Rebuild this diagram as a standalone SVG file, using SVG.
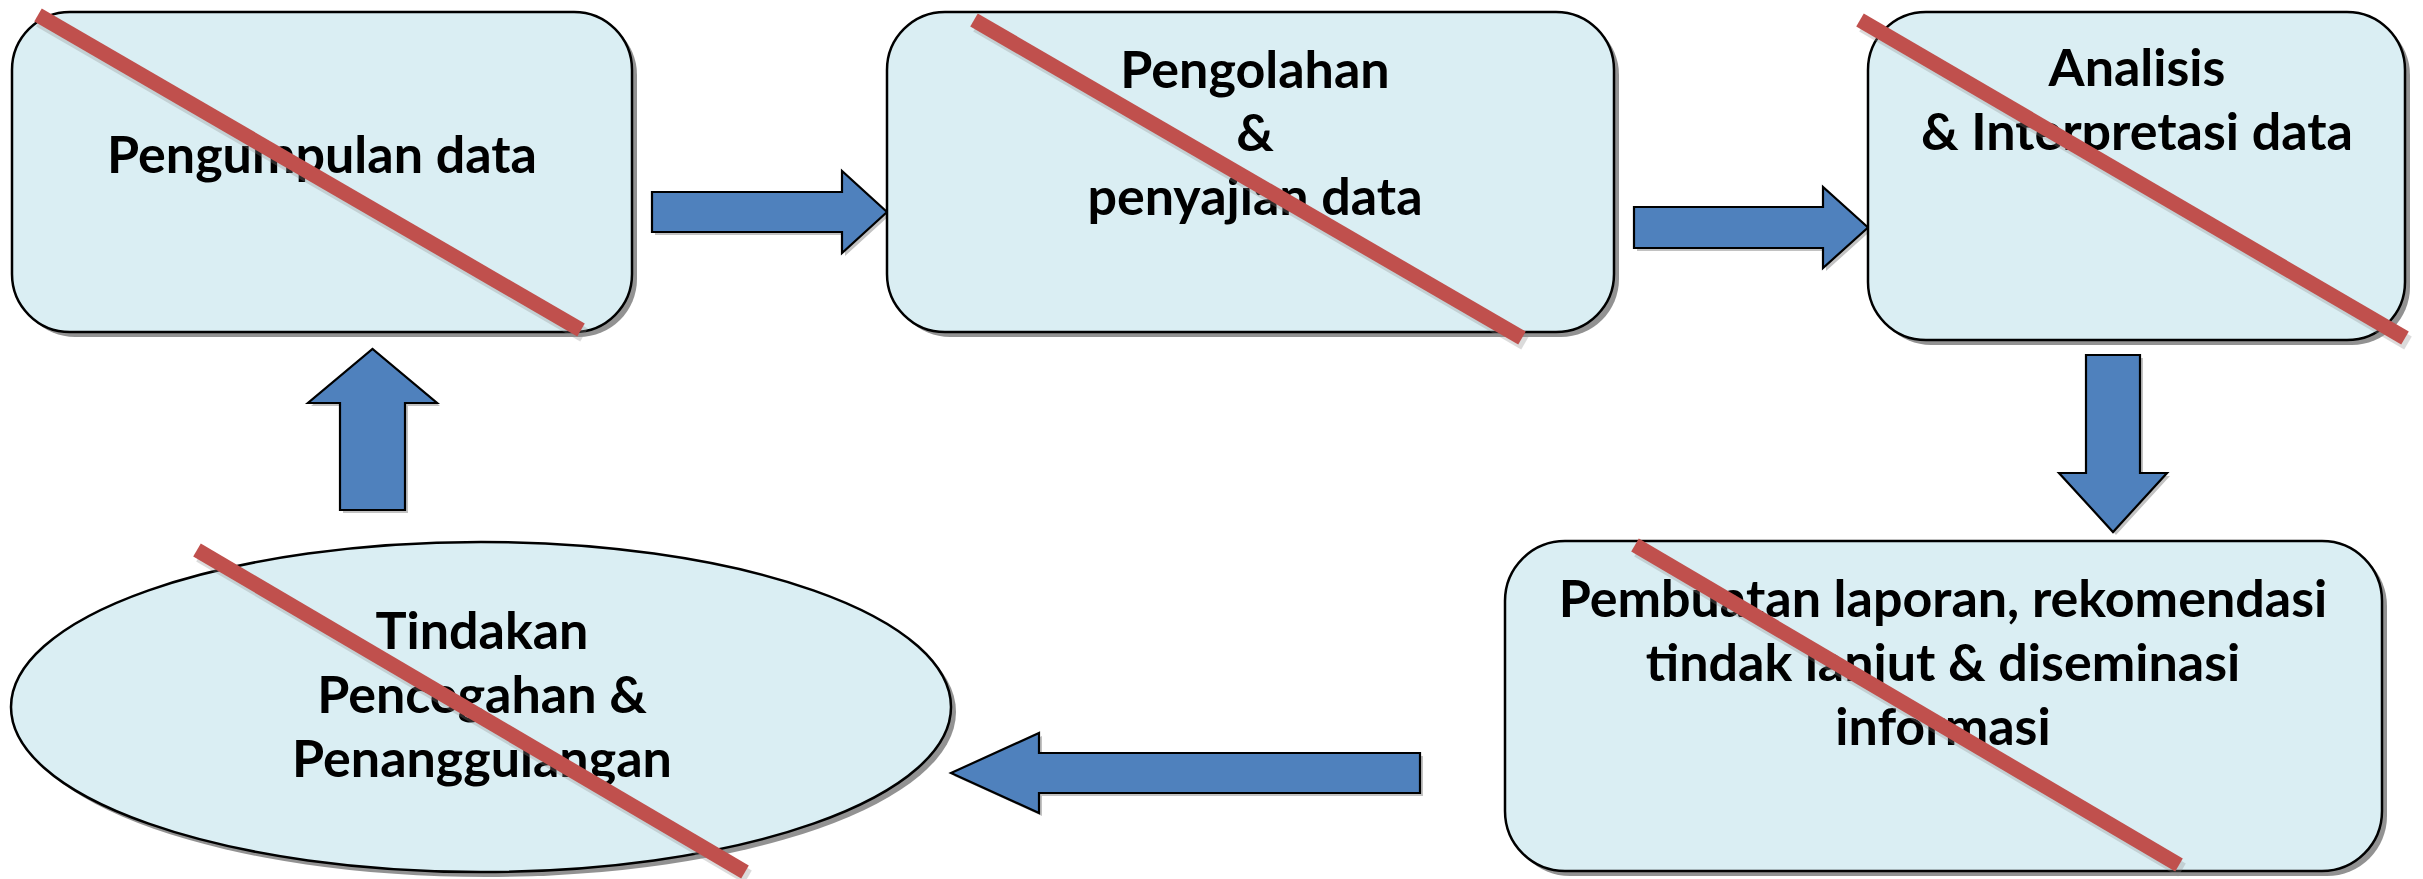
<svg xmlns="http://www.w3.org/2000/svg" width="2423" height="879" viewBox="0 0 2423 879">
<style>
.box{fill:#DAEEF3;stroke:#000;stroke-width:2.5}
.shd{fill:#7f7f7f;opacity:0.85}
.arr{fill:#4F81BD;stroke:#000;stroke-width:2.2;stroke-linejoin:miter}
.arrs{fill:#999;opacity:0.6}
.x{stroke:#C0504D;stroke-width:15;stroke-linecap:butt}
.xs{stroke:#8c8c8c;stroke-width:15;opacity:0.3}
.t{font-family:Lato,"Liberation Sans",sans-serif;font-weight:bold;font-size:52px;fill:#000;text-anchor:middle}
</style>
<rect width="2423" height="879" fill="#fff"/>
<g id="connectors">
<polygon class="arrs" transform="translate(3,3)" points="652,192 842,192 842,171 887,212 842,253 842,232 652,232"/>
<polygon class="arr" points="652,192 842,192 842,171 887,212 842,253 842,232 652,232"/>
<polygon class="arrs" transform="translate(3,3)" points="1634,207 1823,207 1823,187 1868,227.5 1823,268 1823,248 1634,248"/>
<polygon class="arr" points="1634,207 1823,207 1823,187 1868,227.5 1823,268 1823,248 1634,248"/>
<polygon class="arrs" transform="translate(3,3)" points="2086,355 2140,355 2140,473 2167,473 2113,532 2059,473 2086,473"/>
<polygon class="arr" points="2086,355 2140,355 2140,473 2167,473 2113,532 2059,473 2086,473"/>
<polygon class="arrs" transform="translate(3,3)" points="1420,753 1039,753 1039,733 951,773 1039,813 1039,793 1420,793"/>
<polygon class="arr" points="1420,753 1039,753 1039,733 951,773 1039,813 1039,793 1420,793"/>
<polygon class="arrs" transform="translate(3,3)" points="340,510 340,403 308,403 372.5,349 437,403 405,403 405,510"/>
<polygon class="arr" points="340,510 340,403 308,403 372.5,349 437,403 405,403 405,510"/>
</g>
<g id="node1">
<rect class="shd" x="17" y="17" width="620" height="320" rx="58"/>
<rect class="box" x="12" y="12" width="620" height="320" rx="58"/>
<text class="t" x="322" y="173">Pengumpulan data</text>
<line class="xs" x1="40" y1="20" x2="584" y2="335"/>
<line class="x" x1="38" y1="15" x2="581" y2="330"/>
</g>
<g id="node2">
<rect class="shd" x="892" y="17" width="727" height="320" rx="58"/>
<rect class="box" x="887" y="12" width="727" height="320" rx="58"/>
<text class="t" x="1255" y="88">Pengolahan</text>
<text class="t" x="1255" y="151">&amp;</text>
<text class="t" x="1255" y="215">penyajian data</text>
<line class="xs" x1="977" y1="25" x2="1525" y2="343"/>
<line class="x" x1="974" y1="20" x2="1522" y2="338"/>
</g>
<g id="node3">
<rect class="shd" x="1873" y="17" width="537" height="328" rx="58"/>
<rect class="box" x="1868" y="12" width="537" height="328" rx="58"/>
<text class="t" x="2137" y="86">Analisis</text>
<text class="t" x="2137" y="150">&amp; Interpretasi data</text>
<line class="xs" x1="1863" y1="25" x2="2408" y2="343"/>
<line class="x" x1="1860" y1="20" x2="2405" y2="338"/>
</g>
<g id="node4">
<rect class="shd" x="1510" y="546" width="877" height="330" rx="60"/>
<rect class="box" x="1505" y="541" width="877" height="330" rx="60"/>
<text class="t" x="1943" y="617">Pembuatan laporan, rekomendasi</text>
<text class="t" x="1943" y="681">tindak lanjut &amp; diseminasi</text>
<text class="t" x="1943" y="745">informasi</text>
<line class="xs" x1="1638" y1="550" x2="2182" y2="870"/>
<line class="x" x1="1635" y1="545" x2="2179" y2="865"/>
</g>
<g id="node5">
<ellipse class="shd" cx="486" cy="712" rx="470" ry="165"/>
<ellipse class="box" cx="481" cy="707" rx="470" ry="165"/>
<text class="t" x="482" y="649">Tindakan</text>
<text class="t" x="482" y="713">Pencegahan &amp;</text>
<text class="t" x="482" y="777">Penanggulangan</text>
<line class="xs" x1="200" y1="555" x2="748" y2="877"/>
<line class="x" x1="197" y1="550" x2="745" y2="872"/>
</g>
</svg>
